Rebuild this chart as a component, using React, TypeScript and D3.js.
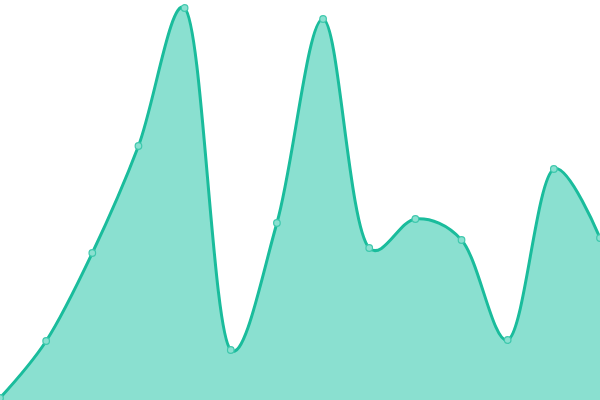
import React from "react";
import * as d3 from "d3";

const width = 600;
const height = 400;

// one label per point (0..100 scale)
const labels = ["1", "2", "3", "4", "5", "6", "7", "8", "9", "10", "11", "12", "13", "14"];
const values = [0.5, 14.75, 36.75, 63.5, 98, 12.5, 44.25, 95.25, 38, 45.25, 40, 15, 57.75, 40.5];

const lineColor = "#1abc9c";
const fillColor = "#8ae0d0";

const App = () => {
  const x = d3.scalePoint<string>().domain(labels).range([0, width]);
  const y = d3.scaleLinear().domain([0, 100]).range([height, 0]);

  const curve = d3.curveCatmullRom.alpha(0.3);

  const area = d3
    .area<number>()
    .x((_, i) => x(labels[i]) || 0)
    .y0(height)
    .y1((v) => y(v))
    .curve(curve);

  const line = d3
    .line<number>()
    .x((_, i) => x(labels[i]) || 0)
    .y((v) => y(v))
    .curve(curve);

  return (
    <svg
      width={width}
      height={height}
      style={{ position: "absolute", top: 0, left: 0, background: "#fff" }}
    >
      <path d={area(values) || ""} fill={fillColor} />
      <path d={line(values) || ""} fill="none" stroke={lineColor} strokeWidth={3} />
      {values.map((v, i) => (
        <circle
          key={labels[i]}
          cx={x(labels[i]) || 0}
          cy={y(v)}
          r={3.3}
          fill={fillColor}
          stroke="#3fc8ad"
          strokeWidth={1.2}
        />
      ))}
    </svg>
  );
};

export default App;
